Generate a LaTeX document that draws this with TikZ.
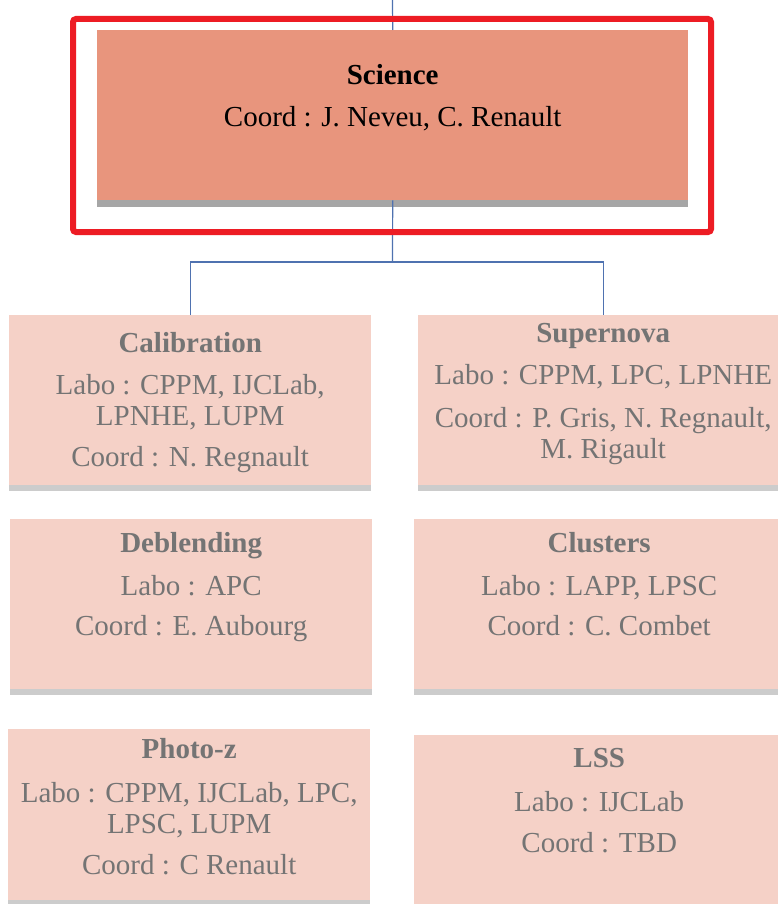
\documentclass[tikz,border=0pt]{standalone}
\usepackage{fontspec}
\setmainfont{Liberation Serif}
\usetikzlibrary{positioning}
\definecolor{scifill}{RGB}{232,149,125}
\definecolor{wpfill}{RGB}{245,209,199}
\definecolor{wptext}{RGB}{116,116,116}
\definecolor{hilite}{RGB}{237,28,36}
\definecolor{link}{RGB}{79,114,176}
\tikzset{
  wpbox/.style={anchor=north west, inner sep=0pt, minimum width=362pt, minimum height=170pt,
    fill=wpfill, preaction={fill=black!20, transform canvas={yshift=-6pt}}}, % grey strip under each box
  wptxt/.style={anchor=north, inner sep=0pt, align=center, text=wptext,
    font=\fontsize{29}{31}\selectfont},
  link/.style={draw=link, line width=1.2pt},
}

\begin{document}
\begin{tikzpicture}[x=1pt,y=-1pt]
  \useasboundingbox (0,0) rectangle (778,904);
  \clip (0,0) rectangle (778,904);
  \fill[white] (0,0) rectangle (778,904);

  % top box
  \node[wpbox, fill=scifill, minimum width=591pt, preaction={fill=black!35, transform canvas={yshift=-7pt}}] (sci) at (97,30) {};
  \node[wptxt, text=black] (scitxt) at ([yshift=-34pt]sci.north)
    {\textbf{Science}\\[11pt]Coord : J. Neveu, C. Renault};

  % working groups
  \node[wpbox] (cal)  at (9,315) {};
  \node[wpbox, minimum width=370pt] (sn) at (418,315) {};
  \node[wpbox] (debl) at (10,519) {};
  \node[wpbox, minimum width=370pt] (clus) at (414,519) {};
  \node[wpbox, minimum height=171pt] (phz) at (8,729) {};
  \node[wpbox, minimum width=370pt, minimum height=180pt] (lss) at (414,735) {};

  \node[wptxt] (caltxt) at ([yshift=-17pt]cal.north)
    {\textbf{Calibration}\\[11pt]Labo : CPPM, IJCLab,\\LPNHE, LUPM\\[10pt]Coord : N. Regnault};
  \node[wptxt] (sntxt) at ([yshift=-8pt]sn.north)
    {\textbf{Supernova}\\[11pt]Labo : CPPM, LPC, LPNHE\\[12pt]Coord : P. Gris, N. Regnault,\\M. Rigault};
  \node[wptxt] (debltxt) at ([yshift=-13pt]debl.north)
    {\textbf{Deblending}\\[12pt]Labo : APC\\[9pt]Coord : E. Aubourg};
  \node[wptxt] (clustxt) at ([yshift=-13pt]clus.north)
    {\textbf{Clusters}\\[12pt]Labo : LAPP, LPSC\\[9pt]Coord : C. Combet};
  \node[wptxt] (phztxt) at ([yshift=-9pt]phz.north)
    {\textbf{Photo-z}\\[13pt]Labo : CPPM, IJCLab, LPC,\\LPSC, LUPM\\[10pt]Coord : C Renault};
  \node[wptxt] (lsstxt) at ([yshift=-13pt]lss.north)
    {\textbf{LSS}\\[13pt]Labo : IJCLab\\[10pt]Coord : TBD};

  % connectors
  \coordinate (top) at (392.5,0);
  \coordinate (bus) at (392.5,262);
  \draw[link] (top) -- (sci.north);
  \draw[link] (sci.south) -- (bus);
  \draw[link] (cal.north) |- (bus) -| (sn.north);

  % highlight frame
  \draw[hilite, line width=6pt, rounded corners=3pt] (73,19) rectangle (711,232);
\end{tikzpicture}
\end{document}
